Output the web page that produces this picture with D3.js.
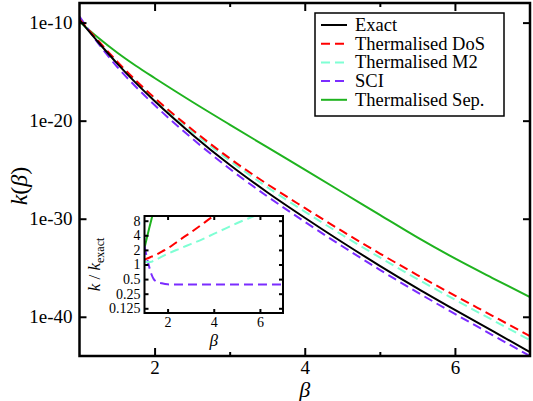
<!DOCTYPE html>
<html><head><meta charset="utf-8">
<script src="https://cdn.jsdelivr.net/npm/d3@7"></script>
<style>
body{margin:0;background:#fff;}
</style></head>
<body><svg id="c" width="533" height="401"></svg>
<script>
// ---- main plot data: beta and log10 k(beta) ----
const beta = [1, 1.25, 1.5, 1.75, 2, 2.5, 3, 3.5, 4, 4.5, 5, 5.5, 6, 6.5, 7];
const exactLog = [-9.75, -12.0, -14.15, -16.15, -18.0, -21.4, -24.5, -27.3, -29.9, -32.4, -34.8, -37.1, -39.3, -41.45, -43.6];
const dosLog   = [-9.65, -11.85, -13.95, -15.9, -17.67, -20.9, -23.84, -26.47, -28.9, -31.27, -33.55, -35.74, -37.84, -39.9, -41.97];
const m2Log    = [-9.69, -11.95, -14.05, -15.99, -17.78, -21.08, -24.08, -26.78, -29.27, -31.66, -33.95, -36.15, -38.26, -40.32, -42.38];
const sciLog   = [-9.37, -12.12, -14.5, -16.54, -18.41, -21.81, -24.91, -27.71, -30.31, -32.81, -35.21, -37.51, -39.71, -41.86, -44.01];
const sepLog   = [-9.9, -11.55, -13.05, -14.4, -15.65, -18.07, -20.4, -22.7, -25.0, -27.3, -29.6, -31.9, -34.05, -36.05, -38.0];

// ---- inset data: ratio k / k_exact ----
const betaIn = [1, 1.1, 1.2, 1.3, 1.4, 1.5, 1.75, 2, 2.5, 3, 3.5, 4, 4.5, 5, 5.5, 6, 6.5, 7];
const dosRatio = [1.26, 1.32, 1.38, 1.45, 1.51, 1.58, 1.85, 2.14, 3.16, 4.57, 6.76, 10, 13.5, 17.8, 23, 29, 35, 42];
const m2Ratio  = [1.15, 1.13, 1.12, 1.14, 1.2, 1.26, 1.45, 1.66, 2.1, 2.63, 3.3, 4.27, 5.5, 7.08, 8.9, 11, 13.5, 16.6];
const sciRatio = [2.4, 1.41, 0.91, 0.63, 0.5, 0.45, 0.41, 0.39, 0.386, 0.385, 0.385, 0.385, 0.385, 0.385, 0.385, 0.385, 0.385, 0.385];
const sepRatio = [2.2, 3.5, 5.5, 8.5, 13, 18, 40, 90, 300, 1000, 3000, 9000, 2e4, 5e4, 1e5, 2e5, 4e5, 6e5];

const xTicks = [2, 4, 6];
const xMinor = [3, 5];
const yTicks = [1e-10, 1e-20, 1e-30, 1e-40];
const yTickLabels = ["1e-10", "1e-20", "1e-30", "1e-40"];
const inYTicks = [0.125, 0.25, 0.5, 1, 2, 4, 8];
const inYTickLabels = ["0.125", "0.25", "0.5", "1", "2", "4", "8"];
const inXTicks = [2, 4, 6];

const seriesNames = ["Exact", "Thermalised DoS", "Thermalised M2", "SCI", "Thermalised Sep."];
const seriesColors = ["#000000", "#ff0000", "#7fffd4", "#7b2cff", "#1fb31f"];
const seriesDash = [null, "9,5", "9,5", "9,5", null];

const FONT = "'Liberation Serif', 'Times New Roman', Times, 'DejaVu Serif', serif";
const svg = d3.select("#c").style("font-family", FONT);
const L = 79.5, R = 530, T = 3, B = 356;

const x = d3.scaleLinear().domain([1, 7]).range([L, R]);
const y = d3.scaleLog().domain([1e-44, 1e-8]).range([B, T]);

svg.append("defs").append("clipPath").attr("id", "mainClip")
  .append("rect").attr("x", L).attr("y", T).attr("width", R - L).attr("height", B - T);

const mainSeries = [exactLog, dosLog, m2Log, sciLog, sepLog];
const line = d3.line().curve(d3.curveMonotoneX).x((d, i) => x(beta[i])).y(d => y(Math.pow(10, d)));

const gLines = svg.append("g").attr("clip-path", "url(#mainClip)");
[4, 3, 2, 1, 0].forEach(k => {
  gLines.append("path").attr("d", line(mainSeries[k]))
    .attr("fill", "none").attr("stroke", seriesColors[k]).attr("stroke-width", 2)
    .attr("stroke-dasharray", seriesDash[k]);
});

function styleAxis(g, fs) {
  g.attr("font-family", null).attr("font-size", null);
  g.select(".domain").remove();
  g.selectAll(".tick line").attr("stroke", "#000").attr("stroke-width", 2);
  g.selectAll("text").style("font-family", FONT).attr("font-size", fs).attr("fill", "#000");
}

// main axes
svg.append("g").attr("transform", `translate(0,${B})`)
  .call(d3.axisBottom(x).tickValues(xTicks).tickSize(-8).tickPadding(5).tickFormat(d3.format("d")))
  .call(g => styleAxis(g, 19));
svg.append("g").attr("transform", `translate(0,${B})`)
  .call(d3.axisBottom(x).tickValues(xMinor).tickSize(-4).tickFormat(""))
  .call(g => styleAxis(g, 19));
svg.append("g").attr("transform", `translate(0,${T})`)
  .call(d3.axisTop(x).tickValues(xTicks).tickSize(-8).tickFormat(""))
  .call(g => styleAxis(g, 19));
svg.append("g").attr("transform", `translate(0,${T})`)
  .call(d3.axisTop(x).tickValues(xMinor).tickSize(-4).tickFormat(""))
  .call(g => styleAxis(g, 19));
svg.append("g").attr("transform", `translate(${L},0)`)
  .call(d3.axisLeft(y).tickValues(yTicks).tickSize(-7).tickPadding(7).tickFormat((d, i) => yTickLabels[i]))
  .call(g => styleAxis(g, 19));
svg.append("g").attr("transform", `translate(${R},0)`)
  .call(d3.axisRight(y).tickValues(yTicks).tickSize(-7).tickFormat(""))
  .call(g => styleAxis(g, 19));

svg.append("rect").attr("x", L).attr("y", T).attr("width", R - L).attr("height", B - T)
  .attr("fill", "none").attr("stroke", "#000").attr("stroke-width", 2.5);

// axis titles
const yt = svg.append("text").attr("transform", "translate(27,186) rotate(-90)")
  .attr("text-anchor", "middle").attr("font-size", 24).style("font-family", FONT);
yt.append("tspan").attr("font-style", "italic").text("k");
yt.append("tspan").text("(");
yt.append("tspan").attr("font-style", "italic").text("β");
yt.append("tspan").text(")");
svg.append("text").attr("x", x(4)).attr("y", 397).attr("text-anchor", "middle").style("font-family", FONT)
  .attr("font-size", 22).attr("font-style", "italic").text("β");

// legend
const lg = svg.append("g");
lg.append("rect").attr("x", 315).attr("y", 13).attr("width", 189).attr("height", 103)
  .attr("fill", "#fff").attr("stroke", "#000").attr("stroke-width", 1.5);
seriesNames.forEach((n, i) => {
  const yy = 25 + i * 18.7;
  lg.append("line").attr("x1", 321).attr("x2", 347).attr("y1", yy).attr("y2", yy)
    .attr("stroke", seriesColors[i]).attr("stroke-width", 2).attr("stroke-dasharray", seriesDash[i]);
  lg.append("text").attr("x", 355).attr("y", yy + 6).attr("font-size", 18.5).style("font-family", FONT).text(n);
});

// ---- inset ----
const iL = 144.5, iR = 283, iT = 216, iB = 313;
const xi = d3.scaleLinear().domain([1, 7]).range([iL, iR]);
const yi = d3.scaleLog().domain([0.1, 10]).range([iB, iT]);
svg.append("rect").attr("x", iL).attr("y", iT).attr("width", iR - iL).attr("height", iB - iT).attr("fill", "#fff");
svg.select("defs").append("clipPath").attr("id", "inClip")
  .append("rect").attr("x", iL).attr("y", iT).attr("width", iR - iL).attr("height", iB - iT);
const inSeries = [null, dosRatio, m2Ratio, sciRatio, sepRatio];
const lineIn = d3.line().curve(d3.curveMonotoneX).x((d, i) => xi(betaIn[i])).y(d => yi(d));
const gIn = svg.append("g").attr("clip-path", "url(#inClip)");
[4, 3, 2, 1].forEach(k => {
  gIn.append("path").attr("d", lineIn(inSeries[k]))
    .attr("fill", "none").attr("stroke", seriesColors[k]).attr("stroke-width", 2)
    .attr("stroke-dasharray", seriesDash[k]);
});
svg.append("g").attr("transform", `translate(0,${iB})`)
  .call(d3.axisBottom(xi).tickValues(inXTicks).tickSize(-4).tickPadding(4).tickFormat(d3.format("d")))
  .call(g => styleAxis(g, 14));
svg.append("g").attr("transform", `translate(0,${iT})`)
  .call(d3.axisTop(xi).tickValues(inXTicks).tickSize(-4).tickFormat(""))
  .call(g => styleAxis(g, 14));
svg.append("g").attr("transform", `translate(${iL},0)`)
  .call(d3.axisLeft(yi).tickValues(inYTicks).tickSize(-4).tickPadding(4).tickFormat((d, i) => inYTickLabels[i]))
  .call(g => styleAxis(g, 14));
svg.append("g").attr("transform", `translate(${iR},0)`)
  .call(d3.axisRight(yi).tickValues(inYTicks).tickSize(-4).tickFormat(""))
  .call(g => styleAxis(g, 14));
svg.append("rect").attr("x", iL).attr("y", iT).attr("width", iR - iL).attr("height", iB - iT)
  .attr("fill", "none").attr("stroke", "#000").attr("stroke-width", 2);
const iyt = svg.append("text").attr("transform", `translate(100,${(iT + iB) / 2}) rotate(-90)`)
  .attr("text-anchor", "middle").attr("font-size", 17).style("font-family", FONT);
iyt.append("tspan").attr("font-style", "italic").text("k");
iyt.append("tspan").text(" / ");
iyt.append("tspan").attr("font-style", "italic").text("k");
iyt.append("tspan").attr("font-size", 12).attr("dy", 4).text("exact");
svg.append("text").attr("x", xi(4)).attr("y", 346).attr("text-anchor", "middle").style("font-family", FONT)
  .attr("font-size", 17).attr("font-style", "italic").text("β");
</script></body></html>
